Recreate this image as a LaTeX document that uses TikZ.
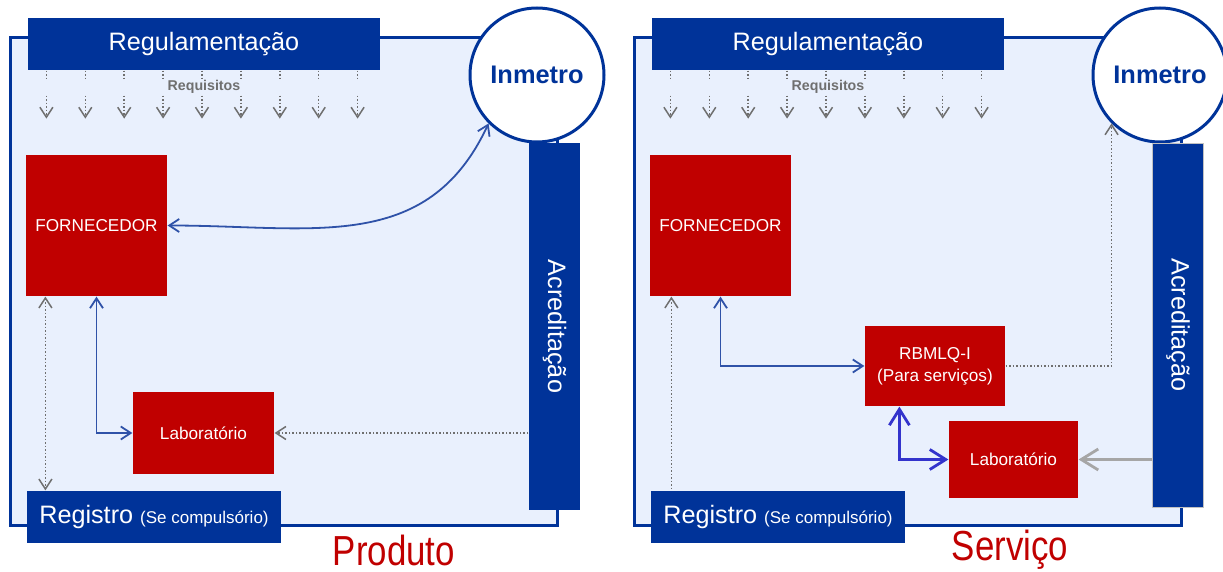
\documentclass[tikz,border=0pt]{standalone}
\usepackage{fontspec}
\setmainfont{Liberation Sans}
\usetikzlibrary{arrows.meta,positioning}

\definecolor{dkblue}{HTML}{003399}
\definecolor{bred}{HTML}{C00000}
\definecolor{lightbg}{HTML}{E9F0FD}
\definecolor{linkblue}{HTML}{2F52A8}
\definecolor{brightblue}{HTML}{3333CC}
\definecolor{reqgray}{HTML}{6F6F6F}
\definecolor{acrgray}{HTML}{A6A6A6}

\begin{document}
\begin{tikzpicture}[x=0.5pt, y=-0.5pt, >={Straight Barb[length=5pt, width=6.5pt]},
                    semithick]
    \tikzstyle{frame}=[draw=dkblue, fill=lightbg, line width=1.5pt]
    \tikzstyle{bluebox}=[fill=dkblue, text=white, inner sep=0pt,
                         font=\fontsize{12.6}{14}\selectfont]
    \tikzstyle{redbox}=[fill=bred, text=white, inner sep=0pt, align=center,
                        font=\fontsize{8.6}{11}\selectfont]
    \tikzstyle{orgao}=[circle, draw=dkblue, fill=white, line width=1.5pt,
                       minimum size=67pt, inner sep=0pt, text=dkblue,
                       font=\bfseries\fontsize{12.7}{14}\selectfont]
    \tikzstyle{reqtext}=[text=reqgray, font=\bfseries\fontsize{7.1}{8}\selectfont]
    \tikzstyle{req}=[reqgray, densely dotted, line width=0.75pt]
    \tikzstyle{link}=[linkblue, line width=0.9pt, <->]
    \tikzstyle{strong}=[brightblue, line width=1.4pt, <->,
                        >={Straight Barb[length=8pt, width=10pt]}]
    \tikzstyle{gdot}=[reqgray, densely dotted, line width=0.75pt]
    \tikzstyle{gsolid}=[acrgray, line width=1.4pt, ->,
                        >={Straight Barb[length=8.5pt, width=10.5pt]}]
    \tikzstyle{caption}=[text=bred, inner sep=0pt, xscale=0.83,
                         font=\fontsize{21}{24}\selectfont]

    \useasboundingbox (0,0) rectangle (1223,572);

    % Produto
    \draw[frame] (10,38) rectangle (557,526);
    \node[bluebox, minimum width=176pt, minimum height=26pt] (regL) at (204,44)   {Regulamentação};
    \node[orgao]                                            (inmL) at (537,75)   {Inmetro};
    \node[bluebox, minimum width=25.5pt, minimum height=183.5pt]
                                                            (acrL) at (554.5,326.5) {\rotatebox{-90}{Acreditação}};
    \node[redbox, minimum width=70.5pt, minimum height=70.5pt] (fornL) at (96.5,225.5) {FORNECEDOR};
    \node[redbox, minimum width=70.5pt, minimum height=41pt]   (labL)  at (203.5,433)  {Laboratório};
    \node[bluebox, minimum width=127pt, minimum height=26pt]   (regiL) at (154,517)
        {Registro {\fontsize{8.5}{10}\selectfont (Se compulsório)}};
    \node[reqtext] (reqL) at (204,87) {Requisitos};
    \node[caption] (prod) at (394,550) {Produto};

    \path (fornL.east) edge [link, out=0, in=245, looseness=1.1] (inmL.south west);
    \path (fornL.south) edge [link, to path={|- (\tikztotarget)}] (labL.west);
    \draw[gdot, <->] ([xshift=10pt]fornL.south west) -- ([xshift=10pt]fornL.south west |- regiL.north);
    \draw[gdot, ->] (acrL.west |- labL.east) -- (labL.east);

    % Servico
    \draw[frame] (634,38) rectangle (1181,526);
    \node[bluebox, minimum width=176pt, minimum height=26pt] (regR) at (828,44)   {Regulamentação};
    \node[orgao]                                            (inmR) at (1160,75)  {Inmetro};
    \node[bluebox, draw=acrgray!70, line width=0.4pt, minimum width=25.5pt, minimum height=182pt]
                                                            (acrR) at (1178,325) {\rotatebox{-90}{Acreditação}};
    \node[redbox, minimum width=70.5pt, minimum height=70.5pt] (fornR) at (720.5,225.5) {FORNECEDOR};
    \node[redbox, minimum width=70pt, minimum height=40pt]     (rbmR)  at (935,366)     {RBMLQ-I\\(Para serviços)};
    \node[redbox, minimum width=64.5pt, minimum height=38.5pt] (labR)  at (1013.5,459.5) {Laboratório};
    \node[bluebox, minimum width=127pt, minimum height=26pt]   (regiR) at (778,517)
        {Registro {\fontsize{8.5}{10}\selectfont (Se compulsório)}};
    \node[reqtext] (reqR) at (828,87) {Requisitos};
    \node[caption] (serv) at (1010,550) {Serviço};

    \path (fornR.south) edge [link, to path={|- (\tikztotarget)}] (rbmR.west);
    \draw[gdot, ->] (rbmR.east) -| (inmR.south west);
    \draw[strong] ([xshift=17.5pt]rbmR.south west) |- (labR.west);
    \draw[gsolid] (acrR.west |- labR.east) -- (labR.east);
    \draw[gdot, <-] ([xshift=11pt]fornR.south west) -- ([xshift=11pt]fornR.south west |- regiR.north);

    % Requisitos
    \foreach \p in {regL, regR}
        \foreach \i in {0,...,8} {
            \draw[req] ([xshift={9.5pt+\i*19.45pt}]\p.south west) -- ++(0,8);
            \draw[req, ->] ([xshift={9.5pt+\i*19.45pt}]\p.south west) ++(0,25) -- ++(0,23);
        }
\end{tikzpicture}
\end{document}
